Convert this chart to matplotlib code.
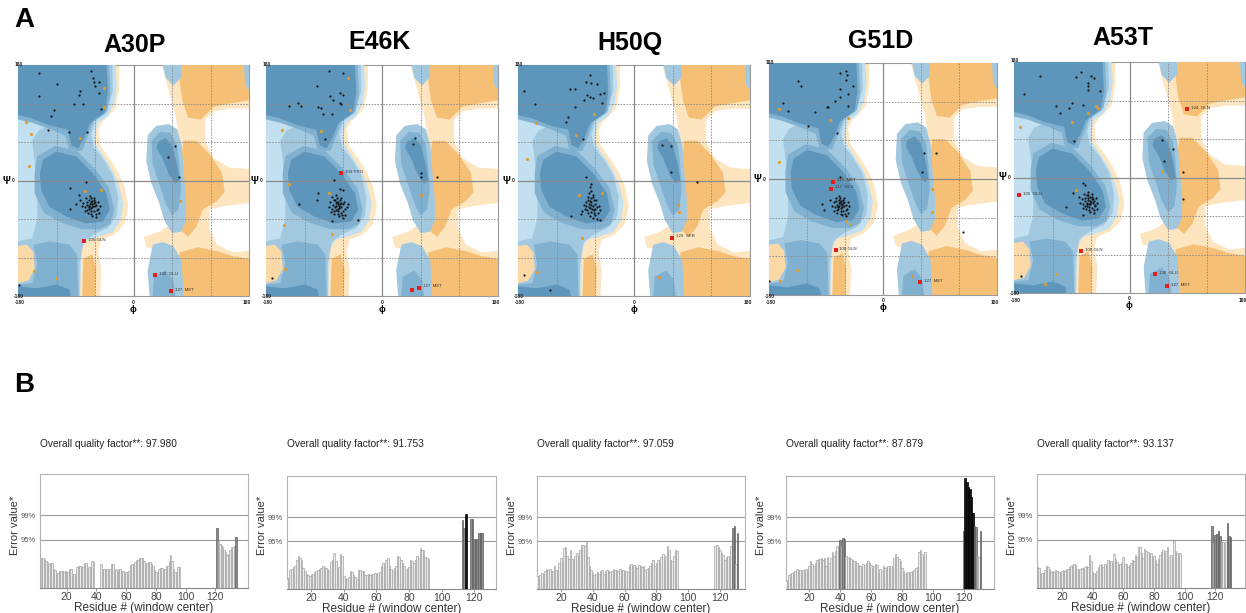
import numpy as np
import matplotlib
matplotlib.use("Agg")
import matplotlib.pyplot as plt
from matplotlib.patches import Polygon

plt.rcParams['font.family'] = ['Liberation Sans', 'DejaVu Sans']

# -----------------------------------
# PANEL A: RAMACHANDRAN DATA (phi, psi)
# -----------------------------------
mutants = ["A30P", "E46K", "H50Q", "G51D", "A53T"]

a30p_black = [(-148, 167), (-66, 171), (-63, 159), (-61, 153), (-54, 153), (-60, 147), (-119, 150),
              (-83, 140), (-53, 136), (-148, 132), (-85, 133), (-92, 120), (-79, 119), (-124, 110),
              (-50, 111), (-128, 101), (-133, 79), (-100, 76), (-72, 76), (64, 53), (54, 37), (71, 5),
              (-74, -2), (-99, -11), (-85, -22), (-89, -37), (-99, -44), (-179, -163),
              (-70, -30), (-65, -32), (-62, -35), (-68, -36), (-72, -38), (-60, -40), (-64, -42),
              (-58, -38), (-75, -42), (-70, -45), (-66, -47), (-62, -48), (-56, -44), (-78, -35),
              (-73, -33), (-67, -28), (-61, -27), (-55, -33), (-69, -40), (-63, -39), (-66, -43),
              (-71, -50), (-59, -52), (-64, -55), (-80, -40), (-52, -40), (-68, -24), (-74, -27),
              (-57, -46), (-76, -48), (-62, -31), (-70, -42), (-65, -37), (-60, -34), (-67, -33),
              (-72, -46), (-58, -57), (-83, -30), (-54, -50), (-66, -52)]
a30p_orange = [(-168, 91), (-159, 72), (-84, 66), (-46, 144), (-46, 114), (-163, 23), (-50, -15),
               (-76, -17), (72, -32), (-155, -141), (-121, -152)]
a30p_red = [(-77, -95, "100 GLN"), (34, -147, "130  GLU"), (59, -172, "127  MET")]

e46k_black = [(-82, 170), (-61, 167), (-101, 148), (-65, 136), (-60, 134), (-81, 131), (-76, 126),
              (-65, 121), (-63, 119), (-131, 121), (-145, 116), (-125, 116), (-100, 114), (-95, 113),
              (-92, 103), (-77, 103), (-88, 65), (51, 66), (48, 57), (61, 11), (61, 5), (86, 6),
              (-75, 1), (-65, -14), (-61, -15), (-99, -20), (-101, -31), (-129, -37), (-77, -63),
              (-38, -61), (-170, -152),
              (-73, -30), (-68, -33), (-65, -36), (-71, -35), (-76, -38), (-63, -41), (-67, -43),
              (-61, -37), (-78, -44), (-72, -46), (-69, -48), (-64, -50), (-58, -45), (-80, -34),
              (-75, -31), (-70, -27), (-64, -28), (-59, -34), (-72, -40), (-66, -39), (-69, -44),
              (-74, -52), (-62, -53), (-67, -56), (-83, -41), (-55, -41), (-71, -23), (-77, -26),
              (-60, -47), (-79, -49), (-65, -31), (-73, -42), (-68, -37), (-63, -35), (-70, -33),
              (-75, -47), (-61, -58), (-52, -36), (-57, -53), (-69, -52)]
e46k_orange = [(-52, 160), (-50, 110), (-155, 78), (-95, 77), (-144, -5), (-82, -19), (-152, -69),
               (-77, -84), (-151, -138), (61, -22)]
e46k_red = [(-64, 12, "109 PRO"), (46, -171, ""), (58, -167, "127  MET")]

h50q_black = [(-68, 164), (-74, 154), (-66, 152), (-58, 151), (-171, 140), (-100, 142), (-92, 142),
              (-46, 137), (-53, 135), (-73, 133), (-69, 130), (-63, 128), (-78, 126), (-154, 119),
              (-92, 115), (-49, 121), (-102, 99), (-105, 91), (-79, 64), (43, 55), (58, 53), (58, 14),
              (98, -2), (-74, 6), (-97, -55), (-53, -61), (-171, -148), (-130, -171),
              (-68, -10), (-66, -16), (-70, -20), (-64, -22), (-67, -27), (-72, -30), (-62, -31),
              (-66, -33), (-60, -36), (-70, -36), (-74, -40), (-64, -40), (-58, -42), (-68, -43),
              (-76, -45), (-62, -46), (-66, -49), (-71, -50), (-56, -50), (-60, -53), (-69, -55),
              (-64, -58), (-58, -60), (-80, -48), (-78, -38), (-54, -40), (-72, -25), (-63, -26),
              (-67, -38), (-61, -44), (-73, -46), (-65, -44), (-70, -41), (-82, -52), (-52, -46),
              (-62, -50), (-68, -32), (-75, -34), (-59, -30), (-66, -5)]
h50q_orange = [(-152, 90), (-90, 71), (-62, 103), (-166, 34), (-85, -23), (-50, -19), (68, -38),
               (70, -49), (-81, -89), (-150, -143), (39, -151)]
h50q_red = [(59, -89, "129  SER")]

g51d_black = [(-58, 168), (-57, 162), (-68, 164), (-58, 153), (-135, 152), (-129, 144), (-68, 139),
              (-48, 144), (-56, 132), (-68, 127), (-76, 121), (-89, 112), (-87, 111), (-108, 104),
              (-56, 113), (-158, 118), (-150, 105), (-119, 82), (-73, 72), (64, 41), (83, 41), (62, 11),
              (-68, 3), (126, -83), (-180, -158), (-97, -39), (-93, -48),
              (-70, -32), (-66, -34), (-63, -37), (-69, -38), (-73, -40), (-61, -42), (-65, -44),
              (-59, -40), (-76, -43), (-71, -47), (-67, -49), (-63, -50), (-57, -46), (-78, -36),
              (-74, -34), (-68, -30), (-62, -29), (-56, -35), (-70, -42), (-64, -41), (-67, -45),
              (-72, -52), (-60, -54), (-65, -56), (-81, -42), (-54, -42), (-69, -26), (-75, -29),
              (-58, -48), (-77, -50), (-63, -33), (-71, -44), (-66, -39), (-61, -36), (-68, -35),
              (-73, -48), (-59, -57), (-84, -33), (-55, -52), (-67, -54)]
g51d_orange = [(-164, 109), (-84, 92), (-56, 94), (-165, 26), (-59, -65), (-52, -70), (77, -15),
               (77, -51), (-136, -141), (-163, -159), (45, -150)]
g51d_red = [(-79, -4, "115  MET"), (-82, -15, "117  GLU"), (-75, -110, "100 GLN"), (58, -160, "127  MET")]

a53t_black = [(-140, 158), (-84, 157), (-75, 165), (-60, 158), (-55, 155), (-64, 147), (-64, 143),
              (-64, 136), (-46, 135), (-164, 130), (-115, 112), (-90, 116), (-95, 109), (-72, 113),
              (-108, 101), (-86, 57), (50, 59), (68, 45), (54, 26), (84, 8), (83, -33), (-72, -8),
              (-69, -11), (-88, -24), (-99, -46), (-73, -58), (-169, -153),
              (-66, -28), (-62, -31), (-59, -34), (-65, -35), (-69, -37), (-57, -39), (-61, -41),
              (-55, -37), (-72, -41), (-67, -44), (-63, -46), (-59, -47), (-53, -43), (-74, -34),
              (-70, -32), (-64, -27), (-58, -26), (-52, -32), (-66, -39), (-60, -38), (-63, -42),
              (-68, -49), (-56, -51), (-61, -54), (-77, -39), (-50, -39), (-65, -23), (-71, -26),
              (-54, -45), (-73, -47), (-59, -30), (-67, -41), (-62, -36), (-57, -33), (-64, -32),
              (-69, -45), (-55, -56), (-78, -30), (-51, -49), (-63, -51)]
a53t_orange = [(-52, 112), (-49, 109), (-65, 100), (-90, 86), (-171, 79), (-83, -19), (51, 10),
               (-115, -150), (-131, -166)]
a53t_red = [(90, 107, "124  GLN"), (-172, -27, "105  GLU"), (-76, -115, "100 GLN"),
            (40, -151, "130  GLU"), (59, -169, "127  MET")]

# general-case contour regions (phi, psi vertices)
lt_orange_regions = [
    [(44, 180), (180, 180), (180, -180), (72, -180), (70, -120), (40, -110), (20, -104), (16, -88),
     (40, -80), (70, -60), (75, 0), (72, 60), (66, 100), (55, 140)],
    [(-180, 180), (-22, 180), (-22, 145), (-28, 112), (-48, 92), (-55, 80), (-52, 55), (-38, 35),
     (-25, 15), (-14, -10), (-8, -40), (-14, -68), (-30, -84), (-50, -92), (-55, -110), (-50, -140),
     (-52, -180), (-180, -180)],
]
white_regions = [
    [(112, 95), (125, 108), (150, 112), (180, 112), (180, 18), (150, 20), (125, 35), (112, 60)],
    [(118, -45), (140, -40), (180, -35), (180, -110), (155, -112), (130, -100), (118, -75)],
]
dk_orange_regions = [
    [(72, 180), (180, 180), (180, 125), (150, 120), (125, 115), (105, 95), (85, 98), (76, 125), (72, 155)],
    [(78, 62), (98, 62), (118, 42), (138, 12), (142, -18), (130, -32), (108, -45), (98, -72), (85, -88),
     (74, -78), (72, -40), (73, 0), (75, 40)],
    [(72, -112), (100, -104), (130, -110), (155, -118), (180, -122), (180, -180), (74, -180), (70, -140)],
    [(-78, -122), (-64, -115), (-58, -140), (-60, -180), (-80, -180)],
]
blue_b_regions = [
    [(-180, 180), (-28, 180), (-26, 150), (-30, 120), (-40, 100), (-55, 90), (-60, 75), (-58, 55),
     (-45, 35), (-32, 15), (-22, -10), (-16, -35), (-20, -62), (-32, -80), (-55, -88), (-72, -92),
     (-80, -105), (-82, -140), (-83, -180), (-180, -180)],
]
blue_c_regions = [
    [(-180, 180), (-33, 180), (-32, 140), (-42, 105), (-60, 92), (-66, 72), (-62, 52), (-46, 32),
     (-32, 8), (-24, -25), (-26, -55), (-40, -74), (-62, -84), (-78, -96), (-84, -130), (-84, -180),
     (-180, -180), (-180, -95), (-158, -90), (-150, -60), (-150, -20), (-154, 30), (-158, 62),
     (-148, 78), (-125, 88), (-145, 96), (-180, 100)],
    [(22, 70), (35, 85), (55, 88), (68, 80), (75, 55), (78, 15), (82, -30), (82, -62), (74, -80),
     (60, -82), (48, -62), (40, -35), (28, -5), (20, 30)],
    [(30, -100), (45, -96), (62, -102), (75, -125), (78, -180), (25, -180), (22, -140)],
    [(46, 180), (74, 180), (74, 160), (62, 148), (50, 160)],
    [(172, 180), (180, 180), (180, 140), (174, 150)],
]
orange_patch_regions = [
    [(-180, -102), (-166, -100), (-156, -112), (-154, -138), (-164, -156), (-180, -160)],
]
blue_d_regions = [
    [(-180, 180), (-38, 180), (-36, 136), (-41, 108), (-62, 95), (-70, 72), (-80, 46), (-100, 46),
     (-106, 70), (-130, 80), (-158, 90), (-180, 95)],
    [(-150, 38), (-122, 54), (-88, 46), (-60, 18), (-38, -12), (-30, -45), (-36, -68), (-52, -76),
     (-80, -76), (-112, -66), (-140, -50), (-154, -20), (-154, 12)],
    [(-156, -100), (-130, -95), (-100, -100), (-88, -115), (-86, -180), (-180, -180), (-180, -162),
     (-158, -160), (-150, -130)],
    [(28, 62), (42, 76), (58, 74), (68, 55), (72, 20), (74, -15), (70, -45), (60, -55), (50, -35),
     (40, -5), (30, 25)],
    [(32, -150), (50, -140), (62, -155), (65, -180), (30, -180)],
]
blue_e_regions = [
    [(-180, 180), (-42, 180), (-40, 136), (-45, 105), (-68, 89), (-76, 68), (-86, 50), (-97, 55),
     (-102, 79), (-131, 86), (-159, 97), (-180, 102)],
    [(-141, 32), (-120, 45), (-89, 37), (-63, 11), (-42, -20), (-37, -46), (-48, -64), (-74, -67),
     (-105, -56), (-131, -41), (-144, -15), (-146, 11)],
    [(-180, -165), (-150, -168), (-120, -162), (-100, -170), (-98, -180), (-180, -180)],
    [(38, 60), (50, 66), (60, 55), (68, 25), (72, 0), (65, -5), (55, 10), (45, 35), (36, 50)],
]

# -----------------------------------
# PANEL B: ERRAT DATA
# -----------------------------------
quality = ["97.980", "91.753", "97.059", "87.879", "93.137"]

a30p_start = 3
a30p_err = [7.2, 7.0, 6.8, 6.5, 6.2, 5.8, 5.9, 5.9, 4.6, 4.2, 3.4, 3.5, 4.1, 4.1, 4.0, 3.8,
            4.1, 3.8, 3.9, 4.5, 4.6, 3.2, 3.3, 3.1, 5.0, 5.1, 5.2, 5.0, 4.9, 6.0, 5.9,
            4.6, 5.0, 5.0, 6.4, 6.2, 0, 0, 0, 0,
            5.6, 4.4, 4.4, 4.5, 4.5, 4.6, 4.4, 5.7, 5.6,
            4.4, 4.2, 3.8, 4.6, 4.5, 4.1, 4.0, 3.6, 3.8,
            3.8, 4.0, 5.4, 5.6, 5.8, 6.2, 6.6, 6.6,
            7.2, 7.1, 7.2, 6.5, 5.8, 5.9, 6.2, 6.1, 5.6,
            5.2, 4.2, 3.8, 3.9, 4.6, 4.8, 4.7, 4.6, 4.6,
            5.3, 5.2, 6.5, 7.8, 6.3, 4.6, 3.8, 3.8, 5.0, 4.9]
a30p_start2 = 121
a30p_err2 = [14.2, 11.2, 10.4, 10.2, 9.6, 9.0, 8.6, 7.8, 8.0, 9.0, 9.6, 9.8, 10.0, 12.0]

e46k_start = 5
e46k_err = [2.4, 2.6, 4.5, 4.8, 5.2, 5.4, 7.0, 7.9, 7.5, 7.0, 5.0, 4.2, 3.6, 3.4, 3.2, 3.5, 3.7,
            4.0, 4.2, 4.6, 4.8, 5.0, 5.4, 5.2, 5.0, 4.8, 4.2, 6.4, 7.0, 8.6, 6.6, 5.0, 5.2, 8.4,
            8.0, 3.0, 2.6, 2.4, 2.8, 4.2, 4.0, 3.4, 2.8, 2.4, 4.6, 4.6, 4.4, 4.4, 3.4, 3.4, 3.5,
            3.4, 3.6, 3.5, 3.8, 3.6, 3.8, 4.0, 5.4, 6.2, 5.8, 7.0, 7.4, 5.4, 4.8, 4.2, 5.0, 5.6,
            7.8, 7.6, 7.0, 6.2, 5.6, 4.6, 5.0, 5.2, 7.0, 6.6, 6.2, 7.0, 7.8, 7.4, 9.8, 9.4, 9.2,
            7.6, 7.4, 7.2]
e46k_start2 = 113
e46k_err2 = [16.4, 14.6, 17.9, 0, 0, 16.8, 16.8, 12.0, 11.6, 12.0, 13.5, 13.3, 13.4]

h50q_start = 5
h50q_err = [3.0, 3.2, 3.4, 3.8, 3.6, 4.2, 4.8, 4.6, 4.7, 4.2, 4.4, 5.4, 4.5, 4.6, 6.2,
            7.4, 6.2, 9.8, 10.0, 7.8, 7.2, 9.4, 7.2, 7.0, 7.8, 8.6, 8.0, 9.4, 10.6, 10.4,
            10.3, 11.2, 7.6, 5.4, 4.6, 3.8, 3.4, 3.6, 4.0, 3.7, 4.2, 4.6, 3.7, 4.2, 4.6, 4.4, 4.0,
            4.4, 4.8, 4.5, 4.6, 4.2, 4.8, 4.5, 4.6, 4.4, 4.2, 4.0, 5.8, 6.0, 5.6, 5.8,
            5.6, 5.0, 5.8, 5.6, 5.2, 5.4, 4.6, 4.8, 5.0, 5.6, 6.2, 7.0, 5.4, 6.2, 7.0, 6.6,
            7.6, 8.4, 7.0, 8.0, 10.2, 9.2, 7.0, 6.8, 7.8, 9.4, 9.0]
h50q_start2 = 117
h50q_err2 = [10.3, 10.6, 10.0, 9.4, 8.6, 8.2, 7.0, 7.6, 7.8, 7.6, 10.2, 14.6, 15.0, 6.0, 13.4]

g51d_start = 5
g51d_err = [1.8, 2.2, 3.4, 3.7, 3.8, 4.0, 4.4, 4.8, 4.6, 4.5, 4.4, 4.6, 4.5, 4.8, 4.6, 5.4,
            6.6, 6.0, 5.4, 6.2, 7.0, 7.2, 7.1, 7.3, 7.0, 7.4, 5.4, 7.6, 6.2, 7.4, 8.8, 7.8,
            9.0, 10.2, 10.0, 11.8, 10.2, 12.2, 12.0, 7.8, 7.4, 7.6, 7.2, 7.0, 6.8, 6.6,
            6.2, 5.8, 5.6, 5.4, 6.0, 5.8, 6.2, 6.6, 6.2, 5.8, 5.0, 5.4, 6.0, 5.8, 3.8, 4.8, 4.4,
            5.4, 5.0, 5.2, 5.6, 4.8, 5.4, 5.2, 7.4, 8.4, 7.6, 7.2, 6.6, 5.0, 4.2, 3.7, 3.8, 4.0,
            3.9, 4.0, 4.2, 4.6, 5.0, 5.2, 8.8, 9.4, 8.4, 8.0, 8.8]
g51d_start2 = 120
g51d_err2 = [13.8, 26.5, 25.6, 24.4, 23.9, 22.0, 18.2, 15.0, 14.8, 8.0, 7.6, 13.8]

a53t_start = 4
a53t_err = [5.0, 4.8, 3.3, 3.6, 3.5, 4.2, 5.2, 5.0, 4.6, 3.8, 4.1, 3.8, 4.2, 4.0, 3.9,
            3.6, 4.1, 4.2, 4.0, 4.4, 4.6, 5.0, 5.2, 5.4, 5.7, 5.5, 4.6, 4.2, 4.4, 4.8,
            4.6, 5.0, 5.2, 5.0, 7.8, 6.4, 3.8, 3.3, 3.6, 4.0, 5.0, 5.4, 5.8, 5.0, 5.6, 5.2,
            6.6, 6.2, 6.4, 6.0, 8.0, 6.8, 6.2, 5.8, 5.6, 5.9, 7.4, 5.6, 5.8, 5.0, 5.4,
            6.0, 6.6, 6.4, 7.8, 7.4, 9.8, 9.6, 8.2, 7.2, 9.2, 8.8, 8.6, 8.4, 8.2, 7.4, 7.6,
            6.6, 5.8, 6.8, 7.8, 8.6, 9.0, 8.4, 8.8, 9.8, 7.4, 7.8, 7.0, 11.2, 8.8, 8.2, 8.0, 8.2]
a53t_start2 = 118
a53t_err2 = [14.6, 10.6, 12.6, 12.8, 13.4, 12.2, 11.0, 10.8, 10.6, 10.9, 15.5, 12.2, 12.0]

errat_x_limits = [(2, 142), (5, 133.5), (5, 135.7), (5, 139.6), (3.8, 139.4)]
LIM95 = 11.38
LIM99 = 17.19

# -----------------------------------
# FIGURE
# -----------------------------------
W, H = 1246, 613
fig = plt.figure(figsize=(W / 100, H / 100), dpi=100)


def px_box(x0, x1, y0, y1):
    return [x0 / W, 1 - y1 / H, (x1 - x0) / W, (y1 - y0) / H]


def ftext(x, y, s, **kw):
    fig.text(x / W, 1 - y / H, s, **kw)


def draw_rama(box, black, orange, red):
    x0, x1, y0, y1 = box
    ax = fig.add_axes(px_box(x0, x1, y0, y1))
    ax.set_xlim(-180, 180)
    ax.set_ylim(-180, 180)
    layers = [
        (lt_orange_regions, "#fde5c0"),
        (white_regions, "#ffffff"),
        (dk_orange_regions, "#f6bf76"),
        (blue_b_regions, "#c3e0f0"),
        (blue_c_regions, "#a2c8df"),
        (orange_patch_regions, "#fbd9a6"),
        (blue_d_regions, "#80b1d0"),
        (blue_e_regions, "#5e95bb"),
    ]
    for z, (polys, col) in enumerate(layers):
        for p in polys:
            ax.add_patch(Polygon(p, closed=True, fc=col, ec="none", zorder=z + 1))

    for v in [-120, -60, 60, 120]:
        ax.axvline(v, color="#8a8a8a", lw=0.6, ls=(0, (2, 1.5)), zorder=10)
        ax.axhline(v, color="#8a8a8a", lw=0.6, ls=(0, (2, 1.5)), zorder=10)
    ax.axvline(0, color="#8a8a8a", lw=0.9, zorder=10)
    ax.axhline(0, color="#8a8a8a", lw=0.9, zorder=10)

    bx = [p[0] for p in black]
    by = [p[1] for p in black]
    ax.scatter(bx, by, s=2.5, c="#111111", lw=0, zorder=12)
    ox = [p[0] for p in orange]
    oy = [p[1] for p in orange]
    ax.scatter(ox, oy, s=5, c="#e49a2a", lw=0, zorder=12)
    for phi, psi, lab in red:
        ax.scatter([phi], [psi], s=7, c="#e0201c", marker="s", lw=0, zorder=13)
        ax.text(phi + 6, psi + 2, lab, fontsize=3.2, color="#333333", va="center", zorder=13)

    ax.set_xticks([])
    ax.set_yticks([])
    for sp in ax.spines.values():
        sp.set_color("#9a9a9a")
        sp.set_linewidth(0.8)

    mid_x = (x0 + x1) / 2
    mid_y = (y0 + y1) / 2
    small = dict(fontsize=3.6, fontweight="bold", color="#222222", ha="center", va="center")
    ftext(x0 + 1, y0 - 1, "180", **small)
    ftext(x0 + 1, y1 + 1, "-180", **small)
    ftext(x0 + 2, y1 + 7, "-180", **small)
    ftext(mid_x, y1 + 6, "0", **small)
    ftext(x1 - 2, y1 + 7, "180", **small)
    ftext(mid_x, y1 + 13, "ϕ", fontsize=6.5, fontweight="bold", ha="center", va="center")
    ftext(x0 - 12, mid_y, "Ψ", fontsize=7, fontweight="bold", ha="center", va="center")
    ftext(x0 - 5, mid_y, "0", **small)


rama_boxes = [(18, 249, 65, 296), (266, 498, 65, 296), (518, 750, 65, 296),
              (769, 997, 63, 295), (1014, 1245, 62, 293)]
title_pos = [(135, 45), (380, 42), (630, 43), (881, 41), (1123, 38)]
rama_sets = [(a30p_black, a30p_orange, a30p_red), (e46k_black, e46k_orange, e46k_red),
             (h50q_black, h50q_orange, h50q_red), (g51d_black, g51d_orange, g51d_red),
             (a53t_black, a53t_orange, a53t_red)]

for i in range(5):
    draw_rama(rama_boxes[i], *rama_sets[i])
    tx, ty = title_pos[i]
    ftext(tx, ty, mutants[i], fontsize=18, fontweight="bold", ha="center", va="center")

ftext(24, 20, "A", fontsize=20, fontweight="bold", ha="center", va="center")
ftext(24, 385, "B", fontsize=20, fontweight="bold", ha="center", va="center")


# -----------------------------------
# ERRAT PLOTS
# -----------------------------------
def bar_style(vals):
    face, edge = [], []
    for v in vals:
        if v > LIM99:
            face.append("#141414")
            edge.append("#000000")
        elif v > LIM95:
            face.append("#8d8d8d")
            edge.append("#5e5e5e")
        else:
            face.append("#ebebeb")
            edge.append("#a4a4a4")
    return face, edge


def draw_errat(box, segments, xlim, qf):
    x0, x1, y0, y1 = box
    ax = fig.add_axes(px_box(x0, x1, y0, y1))
    for start, vals in segments:
        xs = np.arange(start, start + len(vals))
        face, edge = bar_style(vals)
        ax.bar(xs, vals, width=1.0, color=face, edgecolor=edge, linewidth=0.5, zorder=3)
    ax.set_xlim(*xlim)
    ax.set_ylim(0, 27)
    ax.axhline(LIM95, color="#9a9a9a", lw=0.8, zorder=2)
    ax.axhline(LIM99, color="#9a9a9a", lw=0.8, zorder=2)
    for sp in ax.spines.values():
        sp.set_color("#b4b4b4")
        sp.set_linewidth(0.8)
    ax.spines["bottom"].set_color("#888888")
    ax.set_yticks([LIM95, LIM99])
    ax.set_yticklabels(["95%", "99%"], fontsize=5.5, color="#555555")
    ax.tick_params(axis="y", length=0, pad=3)
    ax.set_xticks([20, 40, 60, 80, 100, 120])
    ax.tick_params(axis="x", length=2, width=0.6, color="#888888", labelsize=7.5,
                   labelcolor="#444444", pad=1)
    ax.set_xlabel("Residue # (window center)", fontsize=8.5, color="#333333", labelpad=0)
    ftext(x0 - 25, 525, "Error value*", fontsize=8, color="#333333", rotation=90,
          ha="center", va="center")
    ftext(x0, 444, "Overall quality factor**: " + qf, fontsize=7.3, color="#222222",
          ha="left", va="center")


errat_boxes = [(40, 248, 474, 588), (287, 496, 476, 589), (537, 745, 476, 589),
               (786, 994, 476, 589), (1037, 1245, 474, 588)]
errat_sets = [
    [(a30p_start, a30p_err), (a30p_start2, a30p_err2)],
    [(e46k_start, e46k_err), (e46k_start2, e46k_err2)],
    [(h50q_start, h50q_err), (h50q_start2, h50q_err2)],
    [(g51d_start, g51d_err), (g51d_start2, g51d_err2)],
    [(a53t_start, a53t_err), (a53t_start2, a53t_err2)],
]

for i in range(5):
    draw_errat(errat_boxes[i], errat_sets[i], errat_x_limits[i], quality[i])

fig.savefig("out.png", dpi=100)
